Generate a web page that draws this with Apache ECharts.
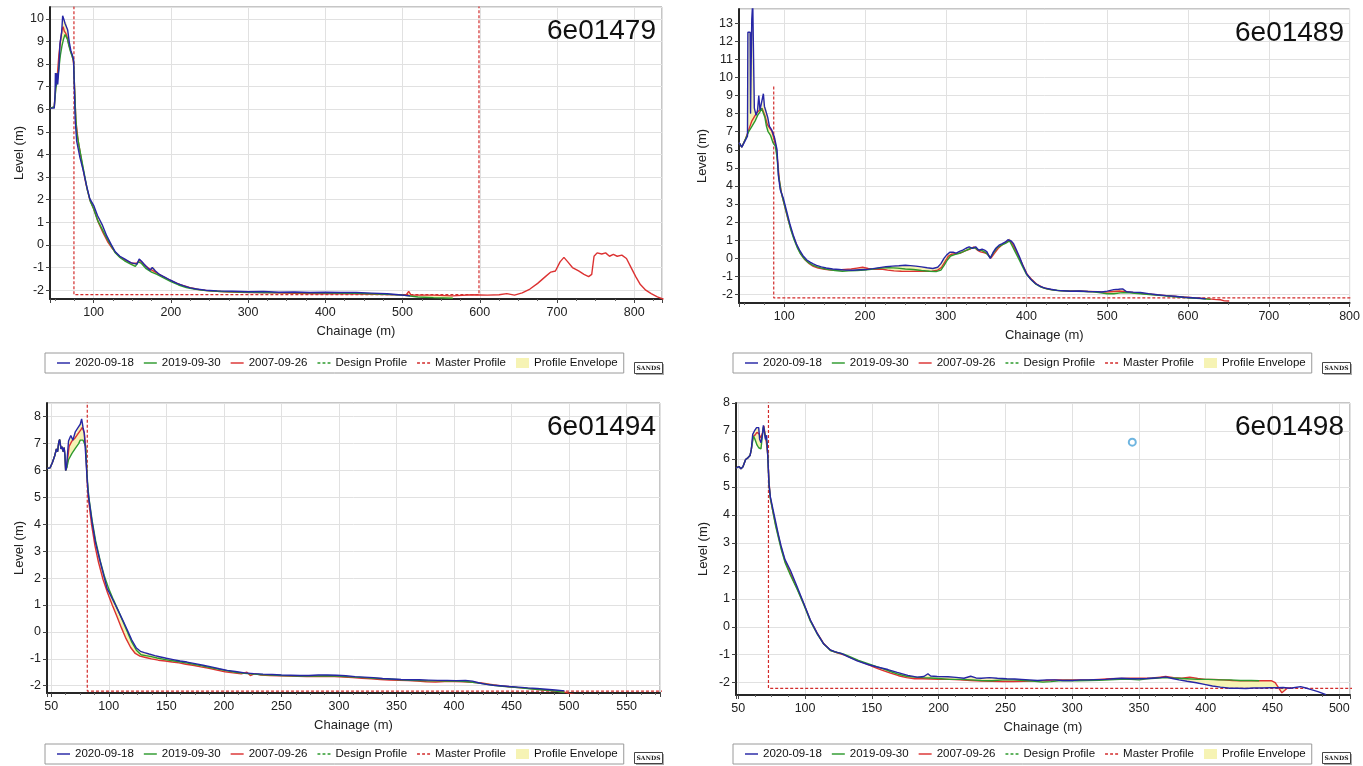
<!DOCTYPE html>
<html>
<head>
<meta charset="utf-8">
<script src="https://cdn.jsdelivr.net/npm/echarts@6/dist/echarts.min.js"></script>
<style>
html,body{margin:0;padding:0;background:#fff;}
#profiles{width:1363px;height:766px;}
</style>
</head>
<body>
<div id="profiles"></div>
<script>
// ---- profile 6e01479 ----
var blue1479 = [[43.5,6.05],[49,6.05],[50,6.6],[50.5,7.6],[51,7.0],[52.5,7.6],[53.5,7.1],[55,7.8],[56.4,8.9],[58.6,9.4],[59.9,10.13],[61.6,9.96],[62.9,9.8],[64.2,9.87],[66.4,9.5],[68.5,8.96],[70.6,8.58],[72.8,8.36],[74,8.2],[74.9,7.1],[76.2,5.5],[78,4.6],[82.3,3.86],[86.5,3.3],[91,2.6],[95,2.05],[100,1.75],[105,1.3],[111,0.9],[117,0.4],[123,0.0],[128,-0.3],[134,-0.5],[140,-0.62],[148,-0.78],[156,-0.85],[159,-0.62],[162,-0.72],[168,-0.95],[173,-1.12],[176,-1.0],[178,-0.95],[180,-1.15],[185,-1.3],[192,-1.42],[199,-1.55],[208,-1.7],[216,-1.8],[225,-1.9],[233,-1.95],[245,-2.0],[260,-2.03],[280,-2.05],[300,-2.07],[320,-2.06],[340,-2.09],[360,-2.08],[380,-2.1],[400,-2.09],[420,-2.1],[440,-2.1],[460,-2.13],[480,-2.16],[495,-2.2],[510,-2.25]];
var green1479 = [[43.5,6.05],[49,6.1],[51,6.9],[53,7.3],[55,7.8],[57,8.4],[59,8.8],[61,9.1],[63,9.3],[64.5,9.35],[66,9.1],[68,8.8],[70,8.55],[72,8.35],[74,8.15],[75,7.2],[76.5,5.9],[78,5.0],[81,4.4],[86,3.5],[92,2.4],[96,1.9],[100,1.6],[105,1.1],[111,0.7],[117,0.3],[123,-0.05],[128,-0.35],[134,-0.55],[140,-0.7],[148,-0.85],[154,-0.95],[158,-0.75],[162,-0.82],[168,-1.05],[175,-1.2],[182,-1.3],[190,-1.45],[200,-1.62],[210,-1.77],[220,-1.88],[230,-1.95],[245,-2.02],[265,-2.06],[290,-2.08],[320,-2.1],[350,-2.11],[380,-2.12],[410,-2.13],[440,-2.14],[470,-2.17],[500,-2.22],[520,-2.3],[540,-2.33],[565,-2.36]];
var red1479 = [[43.5,6.05],[49,6.1],[51,7.0],[53,7.5],[55,8.4],[57,9.0],[59,9.5],[60.5,9.65],[62,9.45],[64,9.35],[66,9.15],[68,8.85],[70,8.6],[72,8.4],[74,8.05],[75.5,6.8],[77,5.5],[80,4.6],[85,3.6],[90,2.7],[95,2.0],[100,1.6],[106,1.0],[112,0.55],[118,0.15],[124,-0.15],[130,-0.4],[136,-0.58],[143,-0.7],[150,-0.82],[156,-0.8],[160,-0.68],[165,-0.85],[172,-1.05],[180,-1.2],[190,-1.4],[200,-1.58],[212,-1.76],[224,-1.88],[236,-1.97],[250,-2.03],[270,-2.07],[300,-2.1],[330,-2.12],[360,-2.14],[390,-2.16],[420,-2.16],[450,-2.17],[480,-2.19],[505,-2.2],[508,-2.05],[511,-2.22],[540,-2.22],[565,-2.25],[590,-2.2],[610,-2.22],[625,-2.2],[635,-2.15],[645,-2.22],[655,-2.12],[665,-1.95],[675,-1.7],[685,-1.4],[692,-1.2],[698,-1.15],[704,-0.75],[709,-0.55],[714,-0.75],[720,-1.0],[728,-1.15],[735,-1.3],[741,-1.4],[745,-1.3],[748,-0.5],[752,-0.35],[758,-0.4],[763,-0.35],[768,-0.5],[773,-0.42],[778,-0.5],[784,-0.45],[790,-0.6],[796,-1.0],[802,-1.4],[808,-1.75],[815,-2.0],[822,-2.15],[830,-2.3],[838,-2.4]];
var master1479 = [[74.5,11],[74.5,-2.2],[599,-2.2],[599,11]];

// ---- profile 6e01489 ----
var blue1489 = [[44,6.4],[47.5,6.15],[51,6.45],[54.5,6.75],[55,12.5],[57.8,12.5],[58.3,8.0],[59.8,13.2],[61,14.2],[62.4,10.0],[63,8.3],[65.2,7.9],[67,8.2],[68.5,9.0],[70,8.2],[72.2,8.1],[74.2,9.1],[75.5,8.4],[77.5,8.3],[79.5,7.8],[81.7,7.3],[84.5,7.1],[87.8,6.7],[89.5,6.6],[91.1,6.0],[92.7,4.6],[95,3.8],[99,3.3],[103,2.6],[107,1.9],[111,1.3],[115,0.8],[119,0.45],[123,0.15],[128,-0.1],[132,-0.22],[136,-0.32],[140,-0.4],[146,-0.48],[152,-0.54],[160,-0.6],[168,-0.63],[176,-0.66],[185,-0.67],[193,-0.64],[201,-0.63],[210,-0.58],[218,-0.52],[226,-0.47],[234,-0.44],[242,-0.42],[250,-0.39],[256,-0.41],[263,-0.44],[270,-0.48],[277,-0.53],[284,-0.57],[290,-0.5],[294,-0.3],[298,0.0],[301,0.17],[305,0.33],[309,0.33],[313,0.28],[317,0.38],[321,0.45],[325,0.55],[329,0.63],[333,0.54],[337,0.63],[341,0.44],[345,0.5],[348,0.45],[351,0.35],[355,-0.02],[359,0.35],[362,0.55],[366,0.72],[370,0.8],[374,0.9],[377,1.02],[379,1.1],[381,0.95],[384,0.8],[387,0.5],[391,0.1],[395,-0.35],[400,-0.85],[405,-1.15],[411,-1.4],[417,-1.56],[423,-1.66],[430,-1.72],[438,-1.78],[446,-1.8],[454,-1.83],[465,-1.82],[476,-1.84],[486,-1.85],[493,-1.87],[500,-1.82],[508,-1.74],[514,-1.72],[519,-1.7],[524,-1.86],[532,-1.88],[541,-1.9],[551,-1.96],[562,-2.02],[573,-2.07],[584,-2.11],[595,-2.16],[605,-2.19],[614,-2.22],[622,-2.25]];
var green1489 = [[44,6.4],[47.5,6.15],[52,6.6],[56,7.0],[60,7.3],[64,7.6],[67,7.9],[70,8.1],[72,8.3],[74,8.2],[76,7.8],[78,7.3],[80,7.0],[83,6.8],[86,6.4],[89,6.2],[91,5.6],[93,4.6],[96,3.7],[100,3.0],[104,2.3],[108,1.6],[112,1.05],[116,0.6],[120,0.25],[125,-0.05],[130,-0.25],[135,-0.38],[140,-0.47],[147,-0.56],[155,-0.63],[163,-0.68],[172,-0.72],[180,-0.7],[190,-0.68],[200,-0.66],[210,-0.6],[220,-0.54],[230,-0.52],[240,-0.55],[250,-0.6],[260,-0.63],[270,-0.68],[280,-0.72],[288,-0.74],[294,-0.66],[298,-0.4],[302,-0.1],[306,0.12],[311,0.2],[316,0.26],[321,0.35],[326,0.45],[331,0.55],[336,0.58],[340,0.45],[345,0.42],[350,0.3],[355,0.02],[359,0.3],[364,0.6],[369,0.72],[374,0.82],[379,0.95],[382,0.7],[386,0.35],[390,0.0],[395,-0.45],[400,-0.9],[406,-1.2],[412,-1.45],[418,-1.6],[425,-1.7],[433,-1.76],[442,-1.8],[452,-1.82],[462,-1.83],[472,-1.84],[482,-1.86],[492,-1.92],[500,-1.97],[508,-1.97],[516,-1.92],[524,-1.9],[534,-1.94],[545,-1.98],[556,-2.02],[568,-2.07],[580,-2.12],[592,-2.16],[604,-2.2],[616,-2.24],[628,-2.28]];
var red1489 = [[44,6.4],[47.5,6.15],[52,6.6],[56,7.1],[60,7.6],[64,7.9],[67,8.1],[70,8.2],[72.5,8.3],[74,8.2],[76,7.9],[79,7.4],[82,7.2],[85,7.0],[88,6.5],[90,6.1],[92,5.3],[94,4.3],[97,3.5],[101,2.8],[105,2.1],[109,1.5],[113,1.0],[117,0.55],[121,0.2],[126,-0.1],[131,-0.3],[136,-0.45],[142,-0.55],[150,-0.62],[158,-0.66],[166,-0.65],[175,-0.62],[183,-0.6],[190,-0.55],[197,-0.5],[204,-0.57],[212,-0.62],[220,-0.6],[228,-0.66],[236,-0.7],[245,-0.72],[255,-0.73],[265,-0.72],[275,-0.73],[283,-0.72],[290,-0.66],[295,-0.5],[299,-0.2],[303,0.1],[307,0.22],[312,0.25],[318,0.28],[324,0.4],[330,0.5],[335,0.62],[339,0.45],[343,0.35],[348,0.3],[352,0.22],[356,0.0],[360,0.25],[365,0.55],[370,0.75],[375,0.9],[379,1.0],[383,0.75],[387,0.4],[391,0.05],[396,-0.45],[401,-0.9],[407,-1.2],[413,-1.45],[420,-1.62],[428,-1.72],[437,-1.78],[447,-1.8],[457,-1.82],[467,-1.82],[477,-1.84],[488,-1.86],[498,-1.88],[508,-1.84],[516,-1.82],[524,-1.86],[535,-1.92],[547,-1.97],[560,-2.02],[573,-2.07],[586,-2.12],[598,-2.16],[610,-2.2],[622,-2.24],[632,-2.28],[640,-2.3],[645,-2.36],[651,-2.37]];
var master1489 = [[87,9.5],[87,-2.2],[820,-2.2]];

// ---- profile 6e01494 ----
var blue1494 = [[46.5,6.08],[49,6.1],[51,6.3],[53,6.55],[54.5,6.8],[55.5,6.7],[56.5,7.05],[57.3,7.15],[58.5,6.8],[59.5,6.88],[60.3,6.7],[61.2,6.85],[61.9,6.55],[62.5,6.0],[63.2,6.1],[65,7.1],[67,7.3],[68.8,7.13],[70.9,7.44],[72.3,7.38],[73.8,7.63],[75.2,7.72],[76.4,7.92],[77.6,7.6],[78.7,7.38],[79.9,6.6],[81,5.8],[82,5.2],[83,4.85],[85.4,4.1],[88.3,3.35],[92.6,2.6],[98.6,1.6],[100,1.5],[104,1.15],[108,0.8],[112,0.45],[116,0.08],[120,-0.3],[124,-0.6],[127.5,-0.72],[131,-0.77],[135,-0.82],[140,-0.88],[145,-0.93],[150,-0.98],[156,-1.03],[162,-1.08],[168,-1.12],[175,-1.18],[182,-1.24],[189,-1.3],[196,-1.37],[203,-1.43],[210,-1.47],[218,-1.52],[226,-1.55],[234,-1.57],[242,-1.58],[250,-1.6],[258,-1.61],[266,-1.62],[274,-1.62],[282,-1.6],[290,-1.6],[298,-1.61],[306,-1.63],[314,-1.66],[322,-1.68],[330,-1.7],[338,-1.73],[346,-1.75],[354,-1.77],[362,-1.78],[370,-1.78],[378,-1.79],[386,-1.8],[394,-1.8],[402,-1.81],[410,-1.8],[416,-1.83],[422,-1.9],[428,-1.95],[434,-1.98],[440,-2.0],[448,-2.03],[456,-2.05],[464,-2.08],[472,-2.1],[480,-2.13],[488,-2.16],[496,-2.19]];
var green1494 = [[46.5,6.08],[49,6.1],[51,6.3],[53,6.55],[54.5,6.8],[55.5,6.7],[56.5,7.05],[57.3,7.15],[58.5,6.8],[59.5,6.88],[60.3,6.7],[61.2,6.85],[61.9,6.55],[62.5,6.0],[63.5,6.1],[65,6.4],[68,6.64],[70.9,6.82],[73.8,7.0],[75.2,7.13],[77.6,7.13],[78.7,7.18],[79.9,6.9],[81,5.9],[82,5.3],[83,4.9],[85.5,4.15],[88.5,3.4],[92.5,2.65],[96,2.1],[100,1.6],[104,1.2],[108,0.82],[112,0.42],[116,0.02],[120,-0.38],[124,-0.68],[128,-0.85],[132,-0.88],[137,-0.92],[142,-0.97],[148,-1.02],[154,-1.06],[160,-1.1],[167,-1.15],[174,-1.2],[181,-1.26],[188,-1.32],[195,-1.38],[202,-1.44],[210,-1.5],[218,-1.54],[226,-1.57],[234,-1.59],[242,-1.6],[250,-1.62],[258,-1.63],[266,-1.64],[274,-1.64],[282,-1.64],[290,-1.63],[298,-1.64],[306,-1.66],[314,-1.68],[322,-1.7],[330,-1.72],[338,-1.74],[346,-1.76],[354,-1.78],[362,-1.8],[370,-1.81],[378,-1.82],[386,-1.82],[394,-1.83],[402,-1.83],[410,-1.84],[418,-1.88],[426,-1.93],[434,-1.98],[442,-2.02],[450,-2.05],[458,-2.08],[466,-2.11],[474,-2.14],[482,-2.17],[490,-2.21],[496,-2.25]];
var red1494 = [[46.5,6.08],[49,6.1],[51,6.3],[53,6.55],[54.5,6.8],[55.5,6.7],[56.5,7.05],[57.3,7.15],[58.5,6.8],[59.5,6.88],[60.3,6.7],[61.2,6.85],[61.9,6.55],[62.5,6.0],[63.5,6.15],[65.5,6.9],[68,7.1],[70.5,7.2],[73,7.35],[75.5,7.5],[77,7.6],[78.7,7.4],[80,6.8],[81,5.8],[82,5.1],[83,4.7],[85,4.0],[88,3.2],[91,2.6],[95,1.95],[99,1.45],[103,1.0],[107,0.58],[111,0.15],[115,-0.25],[119,-0.58],[123,-0.8],[127,-0.9],[132,-0.95],[137,-1.0],[143,-1.05],[149,-1.08],[155,-1.12],[161,-1.15],[167,-1.2],[173,-1.24],[180,-1.3],[187,-1.35],[194,-1.42],[201,-1.48],[208,-1.52],[215,-1.56],[220,-1.5],[223,-1.62],[227,-1.55],[232,-1.6],[240,-1.62],[248,-1.63],[256,-1.64],[264,-1.65],[272,-1.66],[280,-1.66],[288,-1.65],[296,-1.66],[304,-1.68],[312,-1.7],[320,-1.72],[328,-1.74],[336,-1.77],[344,-1.79],[352,-1.8],[360,-1.81],[368,-1.83],[376,-1.85],[384,-1.86],[392,-1.84],[400,-1.84],[408,-1.85],[416,-1.87],[424,-1.9],[432,-1.95],[440,-2.0],[448,-2.04],[456,-2.07],[464,-2.1],[472,-2.13],[480,-2.17],[488,-2.2],[496,-2.24],[502,-2.3],[510,-2.38]];
var master1494 = [[81.3,9],[81.3,-2.2],[600,-2.2]];

// ---- profile 6e01498 ----
var blue1498 = [[48.3,5.67],[50.5,5.73],[52,5.65],[53.5,5.72],[55.5,5.98],[57.2,6.04],[58.8,6.12],[59.8,6.35],[60.8,6.88],[62.1,7.0],[63.7,7.12],[65.3,7.12],[66,6.7],[67,6.58],[68.2,6.9],[68.8,7.2],[69.5,7.0],[70.3,6.7],[71.2,6.85],[72.2,6.0],[73,5.1],[74,4.65],[76,4.2],[78,3.75],[80,3.3],[82,2.9],[85,2.4],[89,2.02],[94,1.44],[99,0.84],[104,0.24],[109,-0.23],[114,-0.62],[119,-0.83],[122,-0.89],[127,-0.95],[132,-1.07],[139,-1.22],[147,-1.35],[154,-1.44],[162,-1.53],[169,-1.63],[177,-1.74],[184,-1.8],[189,-1.78],[192,-1.68],[194,-1.76],[199,-1.78],[207,-1.79],[213,-1.81],[219,-1.84],[224,-1.77],[228,-1.83],[232,-1.84],[238,-1.82],[244,-1.84],[251,-1.86],[257,-1.87],[262,-1.88],[268,-1.9],[274,-1.92],[281,-1.9],[287,-1.9],[293,-1.92],[300,-1.92],[306,-1.9],[312,-1.9],[318,-1.89],[325,-1.88],[331,-1.86],[337,-1.84],[344,-1.86],[350,-1.86],[356,-1.85],[362,-1.83],[366,-1.82],[370,-1.79],[375,-1.85],[380,-1.9],[386,-1.95],[393,-2.0],[399,-2.06],[405,-2.12],[411,-2.16],[418,-2.2],[424,-2.2],[430,-2.21],[436,-2.19],[442,-2.19],[448,-2.18],[453,-2.18],[458,-2.17],[463,-2.2],[467,-2.17],[471,-2.14],[475,-2.19],[479,-2.25],[484,-2.32],[490,-2.43]];
var green1498 = [[48.3,5.67],[50.5,5.73],[52,5.65],[53.5,5.72],[55.5,5.98],[57.2,6.04],[58.8,6.12],[59.8,6.35],[61.4,6.82],[62.5,6.7],[64,6.5],[65.3,6.4],[67,6.36],[68.2,6.9],[68.8,7.15],[69.5,7.0],[70.5,6.75],[71.5,6.6],[72.3,5.9],[73,5.1],[74,4.6],[76,4.1],[78,3.6],[80,3.2],[82,2.8],[85,2.3],[89,1.85],[94,1.35],[99,0.8],[104,0.2],[109,-0.25],[114,-0.62],[119,-0.85],[124,-0.92],[129,-0.98],[134,-1.08],[140,-1.2],[146,-1.3],[152,-1.4],[158,-1.5],[164,-1.6],[170,-1.7],[176,-1.77],[182,-1.8],[188,-1.82],[194,-1.83],[200,-1.85],[208,-1.88],[216,-1.88],[224,-1.9],[232,-1.92],[240,-1.93],[248,-1.9],[256,-1.9],[264,-1.92],[272,-1.95],[278,-1.98],[284,-1.96],[290,-1.93],[296,-1.92],[304,-1.93],[312,-1.92],[320,-1.91],[328,-1.9],[336,-1.88],[344,-1.88],[350,-1.9],[356,-1.86],[362,-1.84],[370,-1.82],[378,-1.84],[386,-1.86],[394,-1.88],[402,-1.88],[410,-1.9],[418,-1.9],[426,-1.92],[434,-1.92],[440,-1.93]];
var red1498 = [[48.3,5.67],[50.5,5.73],[52,5.65],[53.5,5.72],[55.5,5.98],[57.2,6.04],[58.8,6.12],[59.8,6.35],[61,6.8],[62.5,6.85],[64,6.95],[65.5,6.9],[67,6.75],[68.5,7.0],[69.2,7.18],[70,6.9],[71,6.6],[72,6.2],[73,5.2],[74,4.6],[76,4.1],[78,3.65],[80,3.25],[82,2.85],[85,2.35],[89,1.9],[94,1.38],[99,0.82],[104,0.22],[109,-0.22],[114,-0.6],[119,-0.84],[124,-0.93],[129,-1.0],[134,-1.1],[140,-1.22],[146,-1.33],[152,-1.45],[158,-1.56],[164,-1.66],[170,-1.75],[176,-1.82],[182,-1.86],[188,-1.86],[194,-1.87],[200,-1.88],[208,-1.88],[216,-1.9],[224,-1.92],[232,-1.94],[240,-1.95],[248,-1.96],[256,-1.96],[264,-1.95],[272,-1.93],[280,-1.92],[288,-1.9],[296,-1.9],[304,-1.9],[312,-1.9],[320,-1.88],[328,-1.86],[336,-1.85],[344,-1.84],[352,-1.84],[360,-1.83],[366,-1.8],[370,-1.78],[376,-1.82],[382,-1.84],[388,-1.8],[394,-1.85],[400,-1.88],[406,-1.88],[413,-1.9],[420,-1.92],[426,-1.93],[432,-1.93],[438,-1.93],[444,-1.93],[449,-1.93],[452,-2.0],[454,-2.14],[457,-2.36],[459,-2.28],[461,-2.2],[464,-2.18]];
var master1498 = [[72.6,9],[72.6,-2.2],[520,-2.2]];
var point1498 = [[345,6.6]];

var legendNames = ['2020-09-18', '2019-09-30', '2007-09-26', 'Design Profile', 'Master Profile', 'Profile Envelope'];
var FONT = "'Liberation Sans', Arial, sans-serif";
var BLUE = '#2626a6', GREEN = '#2e9a2e', RED = '#dc3232', MASTER = '#d22b2b', ENV = '#f6f3b4';
var SOLID_ICON = 'path://M0,0H18V2H0Z';
var DASH_ICON = 'path://M0,0H4V2H0ZM7,0H11V2H7ZM14,0H18V2H14Z';

var panels = [
    {title: '6e01479', blue: blue1479, green: green1479, red: red1479, master: master1479,
     x: [43.5, 836], y: [-2.39, 10.52], xSplit: 8, ySplit: 13, xMaxLabel: false, yMaxLabel: false,
     grid: {left: 50, top: 7, width: 612, height: 292}, yGap: 22, titleRight: 707, titleTop: 16,
     legend: {left: 45, top: 353}, sands: [634, 362]},
    {title: '6e01489', blue: blue1489, green: green1489, red: red1489, master: master1489,
     x: [44, 800], y: [-2.48, 13.79], xSplit: 8, ySplit: 16, xMaxLabel: true, yMaxLabel: false,
     grid: {left: 739, top: 9, width: 611, height: 294}, yGap: 30, titleRight: 19, titleTop: 18,
     legend: {left: 733, top: 353}, sands: [1322, 362]},
    {title: '6e01494', blue: blue1494, green: green1494, red: red1494, master: master1494,
     x: [46.3, 579], y: [-2.27, 8.51], xSplit: 11, ySplit: 11, xMaxLabel: false, yMaxLabel: false,
     grid: {left: 47, top: 403, width: 613, height: 290}, yGap: 19, titleRight: 707, titleTop: 412,
     legend: {left: 45, top: 744}, sands: [634, 752]},
    {title: '6e01498', blue: blue1498, green: green1498, red: red1498, master: master1498,
     x: [48.3, 508], y: [-2.44, 8], xSplit: 9, ySplit: 10, xMaxLabel: false, yMaxLabel: true,
     grid: {left: 736, top: 403, width: 614, height: 292}, yGap: 26, titleRight: 19, titleTop: 412,
     legend: {left: 733, top: 744}, sands: [1322, 752], extra: point1498}
];

// envelope = area between every pair of surveys, over the chainage they share
function envelopeItem(profiles) {
    return function (params, api) {
        var cs = params.coordSys;
        var children = [];
        for (var i = 0; i < profiles.length; i++) {
            for (var j = i + 1; j < profiles.length; j++) {
                var a = profiles[i], b = profiles[j];
                var lo = Math.max(a[0][0], b[0][0]);
                var hi = Math.min(a[a.length - 1][0], b[b.length - 1][0]);
                var inside = function (p) { return p[0] >= lo && p[0] <= hi; };
                var ring = a.filter(inside).concat(b.filter(inside).reverse());
                children.push({
                    type: 'polygon',
                    shape: {points: ring.map(function (p) { return api.coord(p); })},
                    style: {fill: ENV}
                });
            }
        }
        return {type: 'group', children: children,
            clipPath: {type: 'rect', shape: {x: cs.x, y: cs.y, width: cs.width, height: cs.height}}};
    };
}

function profileLine(name, data, color, i) {
    return {name: name, type: 'line', xAxisIndex: i, yAxisIndex: i, data: data,
        symbol: 'none', showSymbol: false, lineStyle: {color: color, width: 1.4},
        itemStyle: {color: color}, emphasis: {disabled: true}};
}

function legendIcon(n) {
    if (n === 'Profile Envelope') return {name: n, icon: 'rect'};
    if (n === 'Design Profile' || n === 'Master Profile') return {name: n, icon: DASH_ICON};
    return {name: n, icon: SOLID_ICON};
}

var grids = [], xAxes = [], yAxes = [], legends = [], titles = [], series = [], graphics = [];

panels.forEach(function (p, i) {
    grids.push({left: p.grid.left, top: p.grid.top, width: p.grid.width, height: p.grid.height,
        show: true, borderColor: '#8c8c8c', borderWidth: 1, backgroundColor: '#fff'});
    xAxes.push({type: 'value', gridIndex: i, min: p.x[0], max: p.x[1], splitNumber: p.xSplit,
        name: 'Chainage (m)', nameLocation: 'middle', nameGap: 26,
        nameTextStyle: {fontFamily: FONT, fontSize: 13, color: '#222'},
        axisLine: {show: true, onZero: false, lineStyle: {color: '#262626', width: 2}},
        axisTick: {show: true, length: 4, lineStyle: {color: '#444'}},
        minorTick: {show: true, splitNumber: 4, length: 2, lineStyle: {color: '#666'}},
        axisLabel: {fontFamily: FONT, fontSize: 12.5, color: '#222', margin: 7,
            showMinLabel: false, showMaxLabel: p.xMaxLabel},
        splitLine: {show: true, lineStyle: {color: '#e1e1e1'}}});
    yAxes.push({type: 'value', gridIndex: i, min: p.y[0], max: p.y[1], splitNumber: p.ySplit,
        name: 'Level (m)', nameLocation: 'middle', nameGap: p.yGap,
        nameTextStyle: {fontFamily: FONT, fontSize: 13, color: '#222'},
        axisLine: {show: true, onZero: false, lineStyle: {color: '#262626', width: 2}},
        axisTick: {show: true, length: 4, lineStyle: {color: '#444'}},
        axisLabel: {fontFamily: FONT, fontSize: 12.5, color: '#222', margin: 6,
            showMinLabel: false, showMaxLabel: p.yMaxLabel},
        splitLine: {show: true, lineStyle: {color: '#e1e1e1'}}});
    titles.push({text: p.title, right: p.titleRight, top: p.titleTop, padding: 0,
        textStyle: {fontFamily: FONT, fontSize: 28, fontWeight: 'normal', color: '#111', lineHeight: 30}});
    legends.push({left: p.legend.left, top: p.legend.top, orient: 'horizontal', selectedMode: false,
        itemWidth: 13, itemHeight: 10, itemGap: 10, padding: [4, 6, 4, 12], symbolKeepAspect: true,
        borderColor: '#9a9a9a', borderWidth: 1, backgroundColor: '#fff',
        textStyle: {fontFamily: FONT, fontSize: 11.5, color: '#111'},
        data: legendNames.map(legendIcon)});

    series.push({name: 'Profile Envelope', type: 'custom', xAxisIndex: i, yAxisIndex: i,
        data: [[p.x[0], 0]], z: 1, silent: true, itemStyle: {color: ENV},
        renderItem: envelopeItem([p.blue, p.green, p.red])});
    series.push({name: 'Master Profile', type: 'line', xAxisIndex: i, yAxisIndex: i, data: p.master,
        symbol: 'none', lineStyle: {color: MASTER, width: 1.2, type: [3, 2]}, itemStyle: {color: MASTER}});
    series.push({name: 'Design Profile', type: 'line', xAxisIndex: i, yAxisIndex: i, data: [],
        symbol: 'none', lineStyle: {color: GREEN, width: 1, type: [3, 2]}, itemStyle: {color: GREEN}});
    series.push(profileLine('2007-09-26', p.red, RED, i));
    series.push(profileLine('2019-09-30', p.green, GREEN, i));
    series.push(profileLine('2020-09-18', p.blue, BLUE, i));
    if (p.extra) {
        series.push({name: 'Survey point', type: 'scatter', xAxisIndex: i, yAxisIndex: i, data: p.extra,
            symbol: 'emptyCircle', symbolSize: 7, itemStyle: {color: '#4aa3d8', borderWidth: 1.2}});
    }

    graphics.push({type: 'group', left: p.sands[0], top: p.sands[1], children: [
        {type: 'rect', shape: {x: 1.5, y: 1.5, width: 28, height: 11}, style: {fill: '#aaa'}},
        {type: 'rect', shape: {x: 0, y: 0, width: 28, height: 11}, style: {fill: '#fff', stroke: '#444', lineWidth: 1}},
        {type: 'text', x: 14, y: 6, style: {text: 'SANDS', font: 'bold 6px "DejaVu Serif"', fill: '#222',
            align: 'center', verticalAlign: 'middle'}}
    ]});
});

var chart = echarts.init(document.getElementById('profiles'));
var option = {
    animation: false,
    backgroundColor: '#fff',
    title: titles,
    legend: legends,
    grid: grids,
    xAxis: xAxes,
    yAxis: yAxes,
    series: series,
    graphic: graphics
};
chart.setOption(option);
</script>
</body>
</html>
